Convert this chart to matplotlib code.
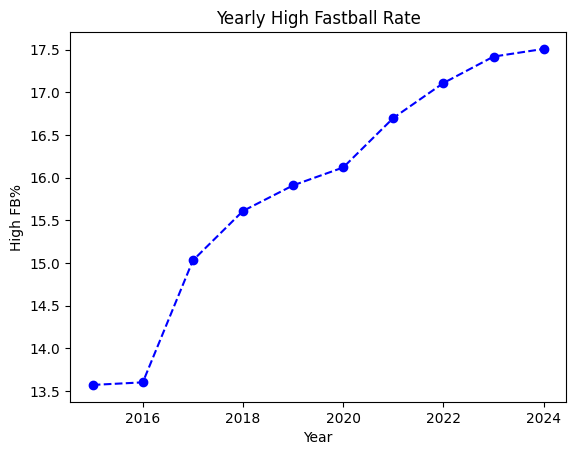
import matplotlib
matplotlib.use("Agg")
import matplotlib.pyplot as plt

years = [2015, 2016, 2017, 2018, 2019, 2020, 2021, 2022, 2023, 2024]
high_fb_pct = [13.57, 13.60, 15.03, 15.61, 15.91, 16.12, 16.70, 17.11, 17.42, 17.51]

fig, ax = plt.subplots(figsize=(6.4, 4.8))
ax.plot(years, high_fb_pct, marker="o", linestyle="--", color="b")
ax.set_title("Yearly High Fastball Rate")
ax.set_xlabel("Year")
ax.set_ylabel("High FB%")
fig.savefig("out.png", dpi=100, bbox_inches="tight")
